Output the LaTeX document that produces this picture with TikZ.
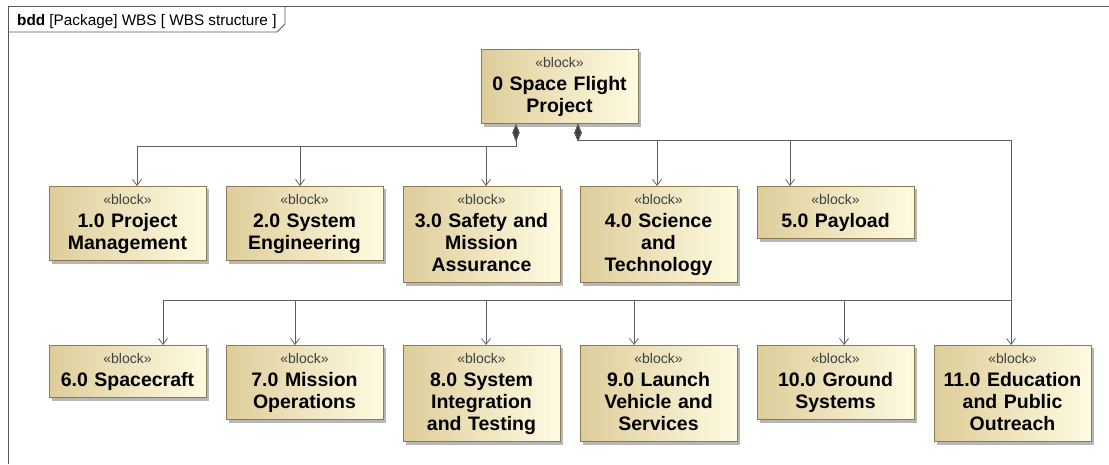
\documentclass[tikz,border=0pt]{standalone}
\usepackage{fontspec}
\setmainfont{Liberation Sans}
\usetikzlibrary{arrows.meta, shadows}

\definecolor{blockleft}{RGB}{222,205,154}
\definecolor{blockright}{RGB}{255,251,226}
\definecolor{blockborder}{RGB}{140,122,84}
\definecolor{linegray}{RGB}{95,95,95}

\newcommand{\stereo}{{\fontsize{14}{16}\selectfont\mdseries\color{black!75}«block»}}
\newcommand{\wbs}[1]{\stereo\\[1pt]#1\strut}

\begin{document}
\begin{tikzpicture}[x=1pt, y=-1pt,
  block/.style = {rectangle, draw=blockborder, line width=0.9pt,
    left color=blockleft, right color=blockright,
    drop shadow={shadow xshift=3pt, shadow yshift=-3pt, fill=black!40, opacity=0.7},
    text width=149pt, align=center, anchor=north, inner xsep=4pt, inner ysep=4.2pt,
    text height=14.3pt, font=\fontsize{19.5}{22}\selectfont\bfseries},
  comp/.style = {draw=linegray, line width=0.8pt,
    {Diamond[length=17pt, width=7pt, fill=black!75]}-{Straight Barb[length=6pt, width=9pt]}},
  frame/.style = {draw=black!65, line width=0.9pt}
]

% Page size
\useasboundingbox (0,0) rectangle (1109,464);

% Diagram frame with name tab
\draw[frame] (8,464) -- (8,6) -- (1109,6);
\draw[frame] (8,32) -- (277,32) -- (285,24) -- (285,6);
\node[anchor=base west, inner sep=0pt, font=\fontsize{15.3}{17}\selectfont] (title) at (17,25)
  {\textbf{bdd} [Package] WBS [ WBS structure ]};

% Root block
\node[block] (root) at (559.5,49) {\wbs{0 Space Flight\\Project}};

% First level, upper row
\node[block] (b1) at (127.5,186) {\wbs{1.0 Project\\Management}};
\node[block] (b2) at (304.5,186) {\wbs{2.0 System\\Engineering}};
\node[block] (b3) at (481.5,186) {\wbs{3.0 Safety and\\Mission\\Assurance}};
\node[block] (b4) at (658.5,186) {\wbs{4.0 Science\\and\\Technology}};
\node[block] (b5) at (835.5,186) {\wbs{5.0 Payload}};

% First level, lower row
\node[block] (b6) at (127.5,345) {\wbs{6.0 Spacecraft}};
\node[block] (b7) at (304.5,345) {\wbs{7.0 Mission\\Operations}};
\node[block] (b8) at (481.5,345) {\wbs{8.0 System\\Integration\\and Testing}};
\node[block] (b9) at (658.5,345) {\wbs{9.0 Launch\\Vehicle and\\Services}};
\node[block] (b10) at (835.5,345) {\wbs{10.0 Ground\\Systems}};
\node[block] (b11) at (1012.5,345) {\wbs{11.0 Education\\and Public\\Outreach}};

% Composition links
\coordinate (busR) at (1011,300);
\foreach \b/\dx in {b1/9.5, b2/-4.5, b3/4.5}
  \draw[comp] ([xshift=-43.5pt]root.south) -- ++(0,22) -| ([xshift=\dx pt]\b.north);
\foreach \b/\dx in {b4/-1.5, b5/-45.5}
  \draw[comp] ([xshift=18.5pt]root.south) -- ++(0,16) -| ([xshift=\dx pt]\b.north);
\foreach \b/\dx in {b6/35.5, b7/-9.5, b8/4.5, b9/-24.5, b10/8.5, b11/-1.5}
  \draw[comp] ([xshift=18.5pt]root.south) -- ++(0,16) -| (busR) -| ([xshift=\dx pt]\b.north);

\end{tikzpicture}
\end{document}
